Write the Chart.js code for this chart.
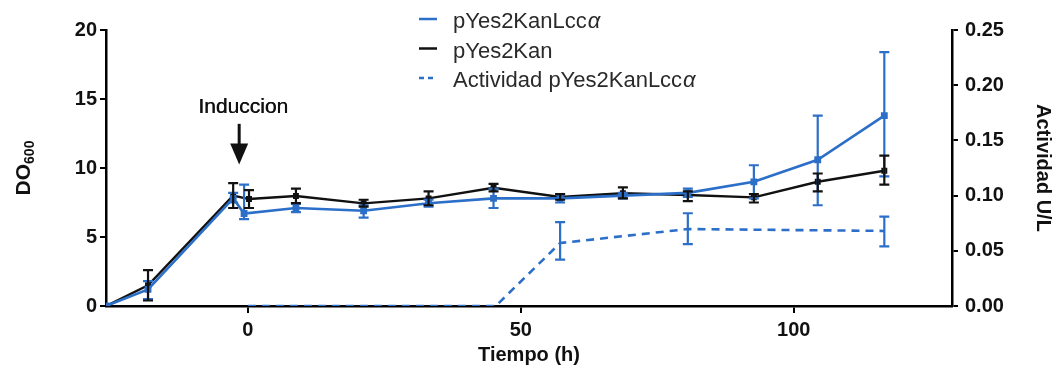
<!DOCTYPE html>
<html>
<head>
<meta charset="utf-8">
<script src="https://cdn.jsdelivr.net/npm/chart.js@4"></script>
<style>
  html, body { margin: 0; padding: 0; background: #fff; }
  #wrap { width: 1055px; height: 370px; position: relative; }
</style>
</head>
<body>
<div id="wrap"><canvas id="growthChart"></canvas></div>
<script>
// values
const timeLcc = [-26, -18.3, -2.7, -0.7, 8.8, 21.2, 33.1, 45.0, 57.2, 68.7, 80.6, 92.7, 104.4, 116.6];
const doLcc   = [0, 1.2, 7.8, 6.7, 7.1, 6.9, 7.45, 7.8, 7.8, 8.0, 8.2, 9.0, 10.6, 13.8];
const doLccLo = [null, 0.5, 7.5, 6.3, 6.8, 6.4, 7.2, 7.1, 7.5, 7.8, 7.9, 7.8, 7.3, 9.4];
const doLccHi = [null, 1.8, 8.2, 8.8, 7.4, 7.3, 7.7, 8.5, 8.1, 8.2, 8.5, 10.2, 13.8, 18.4];

const timeKan = [-26, -18.3, -2.7, 0.2, 8.8, 21.2, 33.1, 45.0, 57.2, 68.7, 80.6, 92.7, 104.4, 116.6];
const doKan   = [0, 1.5, 8.0, 7.75, 7.97, 7.44, 7.8, 8.57, 7.9, 8.17, 8.04, 7.87, 9.0, 9.8];
const doKanLo = [null, 0.4, 7.1, 7.1, 7.45, 7.2, 7.3, 8.3, 7.7, 7.8, 7.6, 7.5, 8.3, 8.8];
const doKanHi = [null, 2.6, 8.9, 8.4, 8.5, 7.7, 8.3, 8.85, 8.1, 8.6, 8.3, 8.1, 9.6, 10.9];

const timeAct = [0, 21.2, 45.4, 57.2, 80.6, 116.6];
const actLcc  = [0, 0, 0, 0.057, 0.0697, 0.068];
const actLo   = [null, null, null, 0.042, 0.056, 0.054];
const actHi   = [null, null, null, 0.076, 0.084, 0.081];

const xTicks  = [0, 50, 100];
const yTicks  = [0, 5, 10, 15, 20];
const y2Ticks = [0, 0.05, 0.10, 0.15, 0.20, 0.25];

const labels = ['pYes2KanLccα', 'pYes2Kan', 'Actividad pYes2KanLccα'];

const BLUE = '#2c6fc8';
const BLACK = '#111111';
const FONT = "'Liberation Sans', Arial, sans-serif";

const pts = (xs, ys) => xs.map((x, i) => ({ x: x, y: ys[i] }));

// vertical error bars with caps
const errorBars = {
    id: 'errorBars',
    afterDatasetsDraw(chart) {
        const ctx = chart.ctx;
        chart.data.datasets.forEach((ds, i) => {
            if (!ds.errLo) return;
            const meta = chart.getDatasetMeta(i);
            const ys = chart.scales[ds.yAxisID];
            ctx.save();
            ctx.strokeStyle = ds.borderColor;
            ctx.lineWidth = 2.2;
            meta.data.forEach((pt, j) => {
                if (ds.errLo[j] == null) return;
                const x = pt.x;
                const y1 = ys.getPixelForValue(ds.errLo[j]);
                const y2 = ys.getPixelForValue(ds.errHi[j]);
                ctx.beginPath();
                ctx.moveTo(x, y1); ctx.lineTo(x, y2);
                ctx.moveTo(x - 5, y1); ctx.lineTo(x + 5, y1);
                ctx.moveTo(x - 5, y2); ctx.lineTo(x + 5, y2);
                ctx.stroke();
            });
            ctx.restore();
        });
    }
};

// legend, "Induccion" arrow and left axis title
const extras = {
    id: 'extras',
    afterDraw(chart) {
        const ctx = chart.ctx;
        const xs = chart.scales.x;
        const yl = chart.scales.y;
        ctx.save();

        // legend (alpha drawn in italic like the original)
        const rows = [
            { color: BLUE, dash: [] },
            { color: BLACK, dash: [] },
            { color: BLUE, dash: [5, 4] }
        ];
        ctx.textBaseline = 'alphabetic';
        ctx.textAlign = 'left';
        rows.forEach((r, i) => {
            const base = 28 + i * 29.5;
            ctx.strokeStyle = r.color;
            ctx.lineWidth = 2.5;
            ctx.setLineDash(r.dash);
            ctx.beginPath();
            ctx.moveTo(419, base - 9);
            ctx.lineTo(437, base - 9);
            ctx.stroke();
            ctx.setLineDash([]);
            ctx.fillStyle = '#2a2a2a';
            const txt = labels[i];
            const plain = txt.endsWith('α') ? txt.slice(0, -1) : txt;
            ctx.font = '22px ' + FONT;
            ctx.fillText(plain, 453, base);
            if (plain !== txt) {
                const w = ctx.measureText(plain).width;
                ctx.font = 'italic 22px ' + FONT;
                ctx.fillText('α', 453 + w + 1, base);
            }
        });

        // induction marker
        const ax = xs.getPixelForValue(-1.6);
        ctx.fillStyle = '#111';
        ctx.font = '21px ' + FONT;
        ctx.textAlign = 'center';
        ctx.fillText('Induccion', ax + 4, yl.getPixelForValue(14.0));
        ctx.fillText('Induccion', ax + 4.4, yl.getPixelForValue(14.0));
        const top = yl.getPixelForValue(13.2);
        const tip = yl.getPixelForValue(10.25);
        ctx.strokeStyle = '#111';
        ctx.lineWidth = 3;
        ctx.beginPath();
        ctx.moveTo(ax, top);
        ctx.lineTo(ax, tip - 16);
        ctx.stroke();
        ctx.beginPath();
        ctx.moveTo(ax - 9, tip - 21);
        ctx.lineTo(ax + 9, tip - 21);
        ctx.lineTo(ax, tip);
        ctx.closePath();
        ctx.fill();

        // DO600 title
        ctx.translate(24, (yl.top + yl.bottom) / 2);
        ctx.rotate(-Math.PI / 2);
        ctx.textAlign = 'left';
        ctx.textBaseline = 'middle';
        ctx.font = 'bold 21px ' + FONT;
        const w1 = ctx.measureText('DO').width;
        ctx.font = 'bold 14px ' + FONT;
        const w2 = ctx.measureText('600').width;
        const start = -(w1 + w2) / 2;
        ctx.font = 'bold 21px ' + FONT;
        ctx.fillText('DO', start, 0);
        ctx.font = 'bold 14px ' + FONT;
        ctx.fillText('600', start + w1, 6);
        ctx.restore();
    }
};

const tickFont = { family: FONT, size: 20, weight: 'bold' };

new Chart(document.getElementById('growthChart'), {
    type: 'line',
    data: {
        datasets: [
            {
                label: labels[0],
                data: pts(timeLcc, doLcc),
                errLo: doLccLo, errHi: doLccHi,
                yAxisID: 'y',
                borderColor: BLUE, backgroundColor: BLUE,
                borderWidth: 2.6, pointRadius: 3, pointStyle: 'rect',
                tension: 0, order: 1
            },
            {
                label: labels[1],
                data: pts(timeKan, doKan),
                errLo: doKanLo, errHi: doKanHi,
                yAxisID: 'y',
                borderColor: BLACK, backgroundColor: BLACK,
                borderWidth: 2.4, pointRadius: 2.5, pointStyle: 'rect',
                tension: 0, order: 2
            },
            {
                label: labels[2],
                data: pts(timeAct, actLcc),
                errLo: actLo, errHi: actHi,
                yAxisID: 'y2',
                borderColor: BLUE, backgroundColor: BLUE,
                borderWidth: 2.6, borderDash: [8, 6], pointRadius: 0,
                tension: 0, order: 0
            }
        ]
    },
    options: {
        responsive: true,
        maintainAspectRatio: false,
        animation: false,
        layout: { padding: { top: 30, left: 0, right: 0, bottom: 0 } },
        plugins: {
            legend: { display: false },
            tooltip: { enabled: false }
        },
        scales: {
            x: {
                type: 'linear',
                min: -26, max: 129,
                afterBuildTicks: axis => { axis.ticks = xTicks.map(v => ({ value: v })); },
                afterFit: axis => { axis.height = 64; },
                grid: { drawOnChartArea: false, drawTicks: true, tickLength: 7, color: '#000', lineWidth: 2 },
                border: { display: true, color: '#000', width: 2.5 },
                ticks: { color: '#111', font: tickFont, padding: 5, maxRotation: 0 },
                title: { display: true, text: 'Tiempo (h)', color: '#111', font: { family: FONT, size: 20, weight: 'bold' }, padding: { top: 0, bottom: 3 } }
            },
            y: {
                position: 'left',
                min: 0, max: 20,
                afterBuildTicks: axis => { axis.ticks = yTicks.map(v => ({ value: v })); },
                afterFit: axis => { axis.width = 106; },
                grid: { drawOnChartArea: false, drawTicks: true, tickLength: 6, color: '#000', lineWidth: 2 },
                border: { display: true, color: '#000', width: 2.5 },
                ticks: { color: '#111', font: tickFont, padding: 3 }
            },
            y2: {
                position: 'right',
                min: 0, max: 0.25,
                afterBuildTicks: axis => { axis.ticks = y2Ticks.map(v => ({ value: v })); },
                afterFit: axis => { axis.width = 103; },
                grid: { drawOnChartArea: false, drawTicks: true, tickLength: 6, color: '#000', lineWidth: 2 },
                border: { display: true, color: '#000', width: 2.5 },
                ticks: { color: '#111', font: tickFont, padding: 7, callback: v => v.toFixed(2) },
                title: { display: true, text: 'Actividad U/L', color: '#111', font: { family: FONT, size: 20, weight: 'bold' }, padding: { top: 0, bottom: 2 } }
            }
        }
    },
    plugins: [errorBars, extras]
});
</script>
</body>
</html>
